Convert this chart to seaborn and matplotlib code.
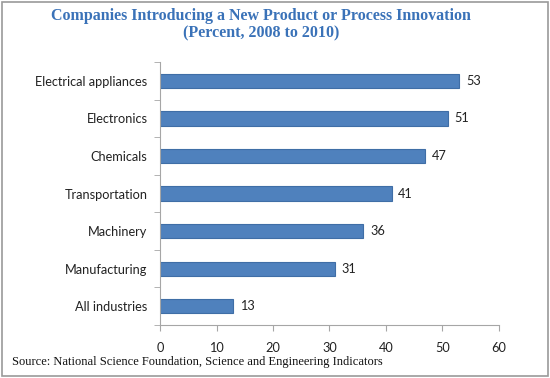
import numpy as np
import pandas as pd
import seaborn as sns
import matplotlib.pyplot as plt
from matplotlib.patches import Rectangle

categories = [
    "Electrical appliances",
    "Electronics",
    "Chemicals",
    "Transportation",
    "Machinery",
    "Manufacturing",
    "All industries",
]
percent = [53, 51, 47, 41, 36, 31, 13]
x_ticks = [0, 10, 20, 30, 40, 50, 60]

title = "Companies Introducing a New Product or Process Innovation\n(Percent, 2008 to 2010)"
source = "Source: National Science Foundation, Science and Engineering Indicators"

sns.set_style("white")
plt.rcParams["font.family"] = ["Lato", "DejaVu Sans"]

df = pd.DataFrame({"industry": categories, "percent": percent})

fig = plt.figure(figsize=(5.5, 3.78), dpi=100)
ax = fig.add_axes([0.291, 0.140, 0.616, 0.696])

sns.barplot(
    data=df,
    x="percent",
    y="industry",
    order=categories,
    orient="h",
    color="#4f81bd",
    saturation=1,
    width=0.38,
    edgecolor="#3f6ea6",
    linewidth=0.8,
    ax=ax,
)

for i, v in enumerate(percent):
    ax.text(v + 1.2, i, str(v), va="center", ha="left", fontsize=9.2, color="#222222")

ax.set_xlim(0, 60)
ax.set_ylim(6.5, -0.5)
ax.set_xticks(x_ticks)
ax.set_xticklabels([str(t) for t in x_ticks], fontsize=9.2, color="#222222")
ax.set_yticks(range(len(categories)))
ax.set_yticklabels(categories, fontsize=9.2, color="#222222")
ax.set_yticks(np.arange(-0.5, len(categories), 1), minor=True)
ax.tick_params(axis="y", which="major", length=0, pad=9)
ax.tick_params(axis="y", which="minor", length=4, color="#a6a6a6", direction="out", left=True)
ax.tick_params(axis="x", which="major", length=4, color="#a6a6a6", direction="out", bottom=True, pad=8)
ax.set_xlabel("")
ax.set_ylabel("")

sns.despine(ax=ax, top=True, right=True)
for s in ["left", "bottom"]:
    ax.spines[s].set_color("#a6a6a6")
    ax.spines[s].set_linewidth(0.8)

fig.text(0.475, 0.978, title, ha="center", va="top", fontsize=11.5, fontweight="bold",
         family="Liberation Serif", color="#3a72b8", linespacing=1.05)
fig.text(0.022, 0.042, source, ha="left", va="center", fontsize=9, family="Liberation Serif",
         color="#111111")

fig.patches.append(Rectangle((0.004, 0.004), 0.992, 0.992, transform=fig.transFigure,
                             fill=False, edgecolor="#9a9a9a", linewidth=1.2))

plt.savefig("out.png", dpi=100)
